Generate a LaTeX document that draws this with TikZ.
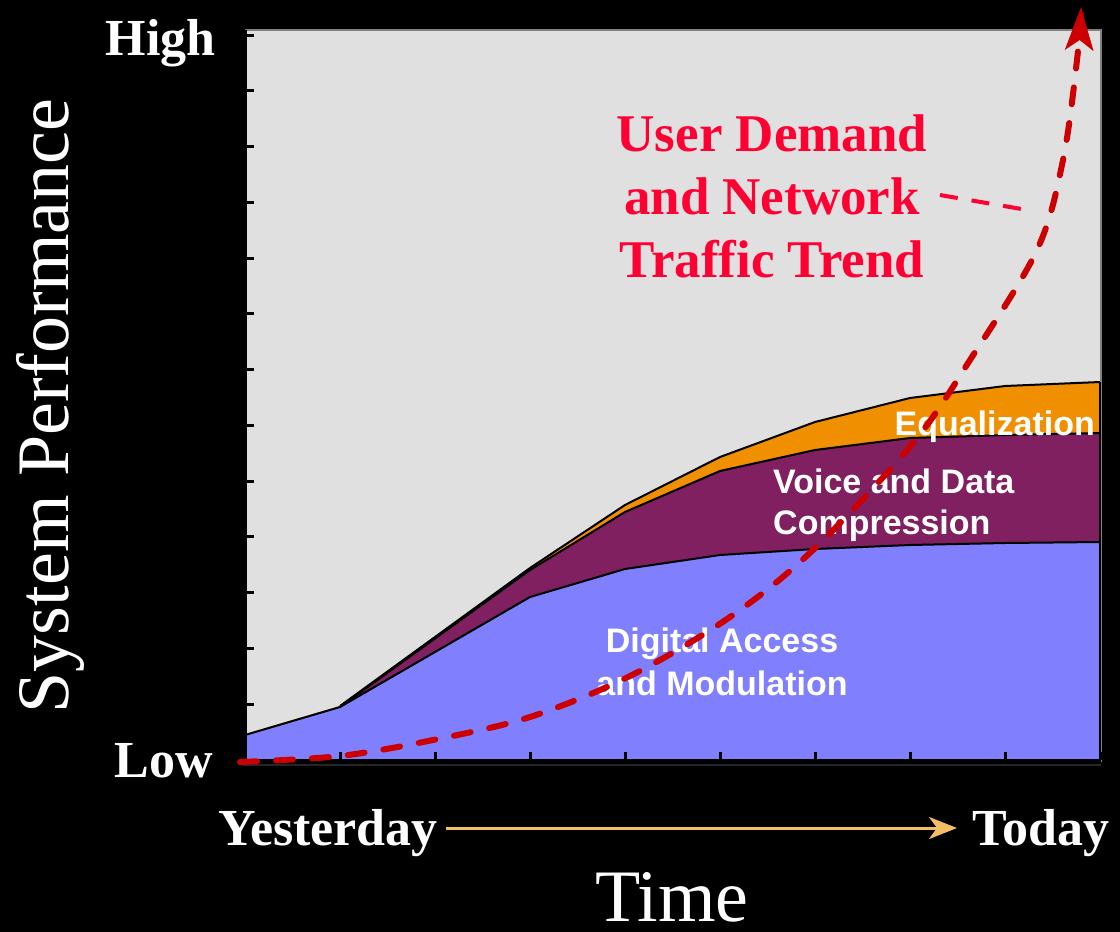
\documentclass[tikz,border=0pt]{standalone}
\usepackage{fontspec}
\setmainfont{Liberation Serif}
\setsansfont{Liberation Sans}
\usetikzlibrary{arrows.meta}
\definecolor{plotbg}{RGB}{224,224,224}
\definecolor{blueA}{RGB}{128,128,255}
\definecolor{purpleA}{RGB}{128,32,96}
\definecolor{orangeA}{RGB}{240,144,0}
\definecolor{trendred}{RGB}{204,0,0}
\definecolor{titlered}{RGB}{255,0,51}
\definecolor{timearrow}{RGB}{245,190,100}
\tikzset{
  boldlbl/.style={text=white,font=\fontsize{52}{62}\selectfont\bfseries,inner sep=0pt},
  biglbl/.style={text=white,font=\fontsize{74}{88}\selectfont,inner sep=0pt},
  arealbl/.style={text=white,font=\fontsize{34}{41}\selectfont\sffamily\bfseries,inner sep=0pt},
  titlelbl/.style={text=titlered,font=\fontsize{53}{64}\selectfont\bfseries,inner sep=0pt},
  bound/.style={draw=black,line width=2pt,line join=round},
  trend/.style={draw=trendred,line width=6pt,line cap=round,dash pattern=on 17pt off 19pt},
}
\begin{document}
\begin{tikzpicture}[x=1pt,y=-1pt]
\fill[black] (0,0) rectangle (1120,932);
\useasboundingbox (0,0) rectangle (1120,932);
% plot area
\fill[plotbg] (245,30) rectangle (1100,760);
\draw[gray,line width=2pt] (245,30) -- (1101,30) -- (1101,762);
\draw[black!85!white,line width=1.5pt] (243,765) -- (1101,765);
% areas
\fill[blueA] (245,760) -- (245,735) -- (340,707) -- (530,597) -- (625,569) -- (720,555) -- (815,549) -- (910,545) -- (1005,543) -- (1100,542) -- (1100,760) -- cycle;
\fill[purpleA] (245,735) -- (340,707) -- (530,570) -- (625,512) -- (720,471) -- (815,450) -- (910,438) -- (1005,435) -- (1100,433)
  -- (1100,542) -- (1005,543) -- (910,545) -- (815,549) -- (720,555) -- (625,569) -- (530,597) -- (340,707) -- cycle;
\fill[orangeA] (245,734) -- (340,706) -- (530,568) -- (625,505) -- (720,457) -- (815,422) -- (910,398) -- (1005,386) -- (1100,382)
  -- (1100,433) -- (1005,435) -- (910,438) -- (815,450) -- (720,471) -- (625,512) -- (530,570) -- (340,707) -- cycle;
\draw[bound] (245,735) -- (340,707) -- (530,597) -- (625,569) -- (720,555) -- (815,549) -- (910,545) -- (1005,543) -- (1100,542);
\draw[bound] (340,707) -- (530,570) -- (625,512) -- (720,471) -- (815,450) -- (910,438) -- (1005,435) -- (1100,433);
\draw[bound] (340,706) -- (530,568) -- (625,505) -- (720,457) -- (815,422) -- (910,398) -- (1005,386) -- (1100,382);
\draw[black,line width=2pt] (1100,382) -- (1100,760);
% axes
\draw[black,line width=4pt] (245,30) -- (245,762);
\draw[black,line width=5pt] (243,761) -- (1101,761);
\foreach \k in {0,...,12} \draw[black,line width=3pt] (245,35+\k*55.77) -- (254,35+\k*55.77);
\foreach \k in {1,...,9} \draw[black,line width=3pt] (245+\k*95,760) -- (245+\k*95,752);
% area labels
\node[arealbl,anchor=base east] (eq) at (1095,435) {Equalization};
\node[arealbl,anchor=base west] (vd) at (773,493) {Voice and Data};
\node[arealbl,anchor=base west] (comp) at (773,534) {Compression};
\node[arealbl,anchor=base] (da) at (722,652) {Digital Access};
\node[arealbl,anchor=base] (mod) at (722,695) {and Modulation};
% trend curve
\draw[trend,-{Stealth[length=43pt,width=28pt,inset=10pt]}]
  plot[smooth,tension=0.55] coordinates {(240,762) (340,756) (433,740) (530,717) (630,676) (730,617) (813,550) (913,443) (970,360) (1037,250) (1063,160) (1077,60) (1081,7)};
% title
\node[titlelbl,anchor=base] (t1) at (772,151) {User Demand};
\node[titlelbl,anchor=base] (t2) at (772,214) {and Network};
\node[titlelbl,anchor=base] (t3) at (772,277) {Traffic Trend};
\coordinate (ls) at (940,195);
\coordinate (le) at (1033,211);
\draw[titlered,line width=4pt,dash pattern=on 18pt off 14pt] (ls) -- (le);
% axis labels
\node[boldlbl,anchor=base east] (high) at (216,55) {High};
\node[boldlbl,anchor=base east] (low) at (213,777) {Low};
\node[biglbl,rotate=90,anchor=base] (sp) at (68,406) {System Performance};
\node[boldlbl,anchor=base west] (yest) at (218,845) {Yesterday};
\node[boldlbl,anchor=base west] (today) at (972,845) {Today};
\node[biglbl,anchor=base] (time) at (672,921) {Time};
\draw[timearrow,line width=3pt,-{Stealth[length=28pt,width=22pt,inset=8pt]}] (yest.east |- 0,828) ++(8,0) -- (957,828);
\end{tikzpicture}
\end{document}
